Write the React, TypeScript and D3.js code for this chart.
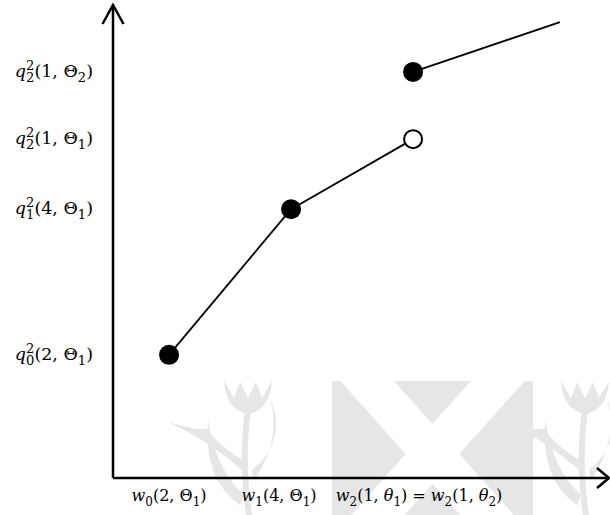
import React from 'react';
import * as d3 from 'd3';

// abstract positions along each axis (0..100)
const pointX = [11.3, 35.9, 60.5, 60.5, 90.1];
const pointY = [26.2, 57.2, 72.1, 86.4, 97.0];
const pointFilled = [true, true, false, true, null];
// which points are joined: [from, to]
const segments = [[0, 1], [1, 2], [3, 4]];

const yTickValues = [86.4, 72.1, 57.2, 26.2];
const yTickLabels = [
  ['i:q', 'ss:2:2', 'r:(1, Θ', 's:2', 'r:)'],
  ['i:q', 'ss:2:2', 'r:(1, Θ', 's:1', 'r:)'],
  ['i:q', 'ss:1:2', 'r:(4, Θ', 's:1', 'r:)'],
  ['i:q', 'ss:0:2', 'r:(2, Θ', 's:1', 'r:)'],
];
const xTickValues = [11.3, 35.9, 60.5];
const xTickLabels = [
  ['i:w', 's:0', 'r:(2, Θ', 's:1', 'r:)'],
  ['i:w', 's:1', 'r:(4, Θ', 's:1', 'r:)'],
  ['i:w', 's:2', 'r:(1, ', 'i:θ', 's:1', 'r:) = ', 'i:w', 's:2', 'r:(1, ', 'i:θ', 's:2', 'r:)'],
];

const W = 610;
const H = 515;
const FONT = "'DejaVu Serif', serif";

function MathText({ tokens, x, y, anchor, size }: { tokens: string[]; x: number; y: number; anchor: string; size: number }) {
  const small = size * 0.75;
  let off = 0;
  const spans: React.ReactNode[] = [];
  tokens.forEach((tok, i) => {
    const parts = tok.split(':');
    const kind = parts[0];
    if (kind === 'r' || kind === 'i') {
      spans.push(
        <tspan key={i} dy={-off} fontStyle={kind === 'i' ? 'italic' : 'normal'}>
          {parts.slice(1).join(':')}
        </tspan>
      );
      off = 0;
    } else if (kind === 's') {
      spans.push(
        <tspan key={i} dy={5 - off} fontSize={small}>
          {parts[1]}
        </tspan>
      );
      off = 5;
    } else if (kind === 'ss') {
      spans.push(
        <tspan key={i + 'a'} dy={-7 - off} fontSize={small}>
          {parts[2]}
        </tspan>
      );
      spans.push(
        <tspan key={i + 'b'} dx={-small * 0.636} dy={12} fontSize={small}>
          {parts[1]}
        </tspan>
      );
      off = 5;
    }
  });
  return (
    <text x={x} y={y} textAnchor={anchor} fontFamily={FONT} fontSize={size} fill="#000">
      {spans}
    </text>
  );
}

export default function App() {
  const x = d3.scaleLinear().domain([0, 100]).range([113, 609]);
  const y = d3.scaleLinear().domain([0, 100]).range([478, 8]);
  const r = 10;
  const xLabelNudge = [0, -12, 6];

  const px = (i: number) => x(pointX[i]);
  const py = (i: number) => y(pointY[i]);

  const line = d3.line<[number, number]>();

  return (
    <svg width={W} height={H} style={{ position: 'absolute', left: 0, top: 0, background: '#fff' }}>
      {/* faint watermark */}
      <g fill="#e6e6e6" stroke="none">
        <defs>
          <clipPath id="wm">
            <rect x={332} y={381} width={201} height={134} />
          </clipPath>
        </defs>
        <rect x={332} y={381} width={201} height={134} />
        <g clipPath="url(#wm)" stroke="#fff" strokeWidth={40}>
          <line x1={335} y1={345} x2={505} y2={535} />
          <line x1={530} y1={345} x2={360} y2={535} />
        </g>
        {[248, 585].map((cx, k) => (
          <g key={k}>
            <path d={`M${cx - 24},381 Q${cx - 22},410 ${cx},414 Q${cx + 22},410 ${cx + 24},381 L${cx + 14},398 L${cx + 8},382 L${cx},398 L${cx - 8},382 L${cx - 14},398 Z`} />
            <path d={`M${cx - 3},410 Q${cx - 10},460 ${cx - 2},515 L${cx + 4},515 Q${cx - 4},460 ${cx + 3},410 Z`} />
            <path d={`M${cx - 6},470 Q${cx - 40},440 ${cx - 80},422 Q${cx - 45},432 ${cx - 42},428 Q${cx - 30},445 ${cx - 6},460 Z`} />
            <path d={`M${cx + 4},470 Q${cx + 40},440 ${cx + 22},398 Q${cx + 34},440 ${cx + 6},480 Z`} />
            <path d={`M${cx - 8},505 Q${cx - 45},480 ${cx - 40},420 Q${cx - 32},470 ${cx - 4},495 Z`} />
          </g>
        ))}
      </g>

      {/* axes with open arrowheads */}
      <g stroke="#000" strokeWidth={2.5} fill="none">
        <line x1={x(0)} y1={y(0)} x2={x(0)} y2={y(100) - 3} />
        <line x1={x(0)} y1={y(0)} x2={x(100)} y2={y(0)} />
        <polyline points={`${x(0) - 10.5},${y(100) + 16} ${x(0)},${y(100) - 3} ${x(0) + 10.5},${y(100) + 16}`} />
        <polyline points={`${x(100) - 12},${y(0) - 10} ${x(100)},${y(0)} ${x(100) - 12},${y(0) + 10}`} />
      </g>

      {/* line segments */}
      <g stroke="#000" strokeWidth={1.8} fill="none">
        {segments.map(([a, b], i) => (
          <path key={i} d={line([[px(a), py(a)], [px(b), py(b)]]) || ''} />
        ))}
      </g>

      {/* points */}
      {pointX.map((_, i) =>
        pointFilled[i] === null ? null : (
          <circle
            key={i}
            cx={px(i)}
            cy={py(i)}
            r={pointFilled[i] ? r : r - 1}
            fill={pointFilled[i] ? '#000' : '#fff'}
            stroke="#000"
            strokeWidth={pointFilled[i] ? 0 : 2}
          />
        )
      )}

      {/* y labels */}
      {yTickValues.map((v, i) => (
        <MathText key={i} tokens={yTickLabels[i]} x={93} y={y(v) + 5} anchor="end" size={17.5} />
      ))}

      {/* x labels */}
      {xTickValues.map((v, i) => (
        <MathText key={i} tokens={xTickLabels[i]} x={x(v) + xLabelNudge[i]} y={501} anchor="middle" size={16} />
      ))}
    </svg>
  );
}
